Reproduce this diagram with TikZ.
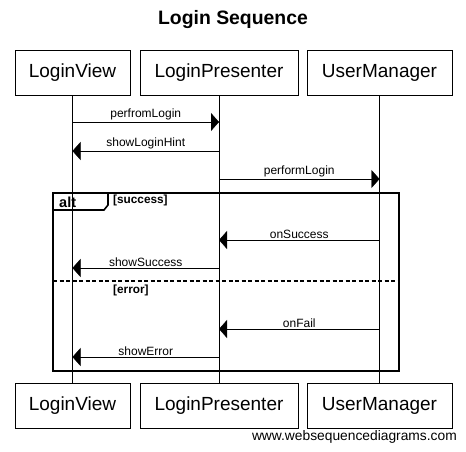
\documentclass[tikz,border=0pt]{standalone}
\usepackage{fontspec}
\setmainfont{Liberation Sans}
\usetikzlibrary{arrows.meta}
\tikzset{
  actor/.style={draw,semithick,inner xsep=0pt,minimum height=45pt,font=\fontsize{19}{22}\selectfont},
  msg/.style={-{Triangle[length=8pt,width=18pt]},thin},
  lbl/.style={above,inner sep=1.5pt,font=\fontsize{12}{14}\selectfont},
  guard/.style={anchor=west,inner sep=0pt,font=\bfseries\fontsize{11.8}{13}\selectfont}
}
\begin{document}
\begin{tikzpicture}[x=1pt,y=-1pt]
    \useasboundingbox (0,0) rectangle (466,452);
    \node[font=\bfseries\fontsize{19.4}{22}\selectfont] (title) at (233,20) {Login Sequence};
    % participants, top and bottom
    \node[actor,minimum width=115pt] (lv) at (72.5,72.5) {LoginView};
    \node[actor,minimum width=158pt] (lp) at (219,72.5) {LoginPresenter};
    \node[actor,minimum width=145pt] (um) at (379.5,72.5) {UserManager};
    \node[actor,minimum width=115pt] (lvb) at (72.5,406) {LoginView};
    \node[actor,minimum width=158pt] (lpb) at (219,406) {LoginPresenter};
    \node[actor,minimum width=145pt] (umb) at (379.5,406) {UserManager};
    \draw[thin] (lv) -- (lvb);
    \draw[thin] (lp) -- (lpb);
    \draw[thin] (um) -- (umb);
    % messages
    \draw[msg] (lv |- 0,122) -- (lp |- 0,122) node[lbl,midway] {perfromLogin};
    \draw[msg] (lp |- 0,151) -- (lv |- 0,151) node[lbl,midway] {showLoginHint};
    \draw[msg] (lp |- 0,179) -- (um |- 0,179) node[lbl,midway] {performLogin};
    \draw[msg] (um |- 0,240) -- (lp |- 0,240) node[lbl,midway] {onSuccess};
    \draw[msg] (lp |- 0,268) -- (lv |- 0,268) node[lbl,midway] {showSuccess};
    \draw[msg] (um |- 0,329) -- (lp |- 0,329) node[lbl,midway] {onFail};
    \draw[msg] (lp |- 0,357) -- (lv |- 0,357) node[lbl,midway] {showError};
    % alt frame
    \draw[line width=1.6pt] (53,193) rectangle (399,371);
    \draw[line width=1.6pt] (53,210) -- (104,210) -- (108,205) -- (108,193);
    \node[anchor=west,inner sep=0pt,font=\bfseries\fontsize{14.5}{16}\selectfont] (alt) at (59,202) {alt};
    \node[guard] (succ) at (113,200) {[success]};
    \draw[line width=1.4pt,dash pattern=on 4pt off 2.5pt] (53,281) -- (399,281);
    \node[guard] (err) at (113,290) {[error]};
    \node[anchor=east,inner sep=0pt,font=\fontsize{13.8}{16}\selectfont] (web) at (457,437) {www.websequencediagrams.com};
\end{tikzpicture}
\end{document}
